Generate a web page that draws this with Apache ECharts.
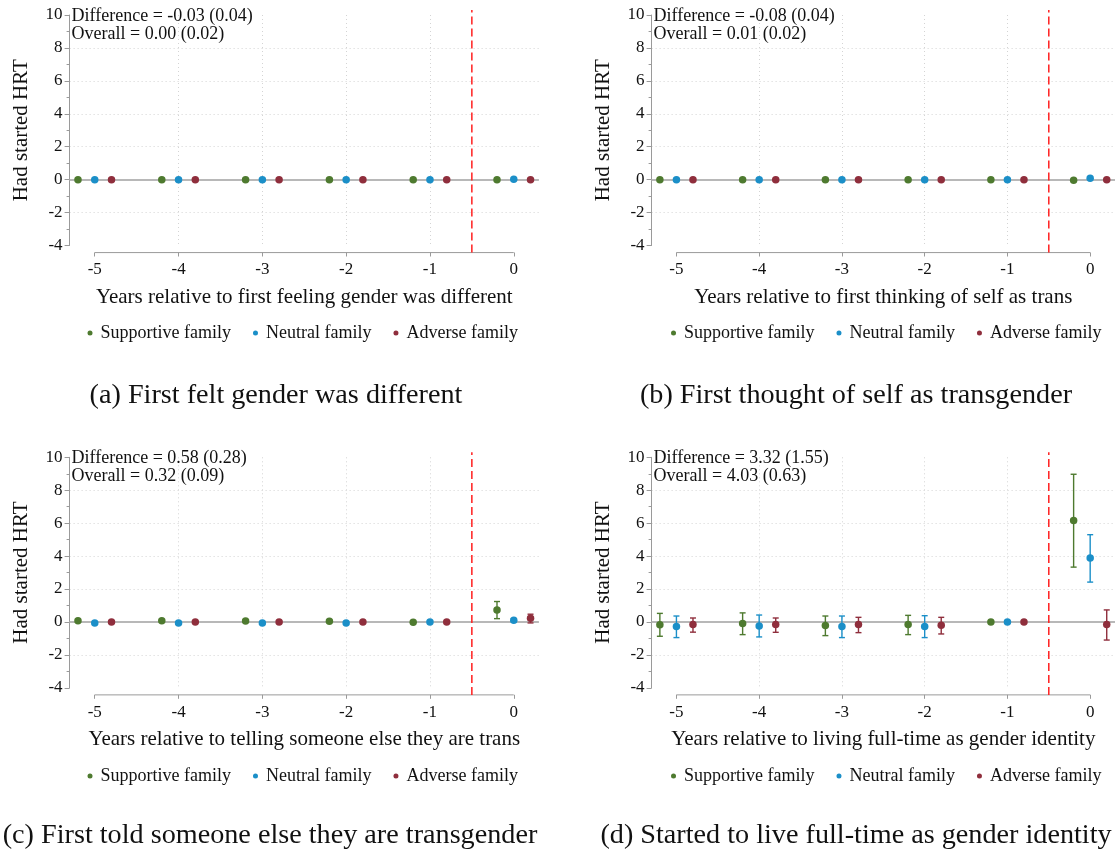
<!DOCTYPE html>
<html><head><meta charset="utf-8">
<script src="https://cdn.jsdelivr.net/npm/echarts@6/dist/echarts.min.js"></script>
<style>html,body{margin:0;padding:0;background:#fff}#c{width:1115px;height:855px}</style>
</head><body><div id="c"></div>
<script>
// ---------- data ----------
const years = [-5, -4, -3, -2, -1, 0];
const groupNames = ['Supportive family', 'Neutral family', 'Adverse family'];

// Panel (a)
const aSupportive = [0, 0, 0, 0, 0, 0];
const aNeutral    = [0, 0, 0, 0, 0, 0.03];
const aAdverse    = [0, 0, 0, 0, 0, 0];
// Panel (b)
const bSupportive = [0, 0, 0, 0, 0, -0.03];
const bNeutral    = [0, 0, 0, 0, 0, 0.08];
const bAdverse    = [0, 0, 0, 0, 0, 0];
// Panel (c)
const cSupportive   = [0.07, 0.07, 0.06, 0.04, -0.02, 0.73];
const cSupportiveLo = [null, null, null, null, null, 0.20];
const cSupportiveHi = [null, null, null, null, null, 1.24];
const cNeutral      = [-0.06, -0.06, -0.06, -0.06, 0, 0.10];
const cNeutralLo    = [null, null, null, null, null, 0.01];
const cNeutralHi    = [null, null, null, null, null, 0.20];
const cAdverse      = [0, 0, 0, -0.01, 0, 0.22];
const cAdverseLo    = [null, null, null, null, null, -0.06];
const cAdverseHi    = [null, null, null, null, null, 0.47];
// Panel (d)
const dSupportive   = [-0.17, -0.10, -0.22, -0.16, 0, 6.16];
const dSupportiveLo = [-0.87, -0.77, -0.83, -0.77, null, 3.33];
const dSupportiveHi = [0.52, 0.55, 0.36, 0.40, null, 8.97];
const dNeutral      = [-0.28, -0.24, -0.28, -0.28, 0, 3.88];
const dNeutralLo    = [-0.95, -0.91, -0.95, -0.95, null, 2.42];
const dNeutralHi    = [0.36, 0.42, 0.36, 0.38, null, 5.30];
const dAdverse      = [-0.16, -0.16, -0.16, -0.20, 0, -0.16];
const dAdverseLo    = [-0.62, -0.63, -0.65, -0.73, null, -1.10];
const dAdverseHi    = [0.24, 0.24, 0.28, 0.28, null, 0.73];

const diffTexts = ['Difference = -0.03 (0.04)', 'Difference = -0.08 (0.04)', 'Difference = 0.58 (0.28)', 'Difference = 3.32 (1.55)'];
const overallTexts = ['Overall = 0.00 (0.02)', 'Overall = 0.01 (0.02)', 'Overall = 0.32 (0.09)', 'Overall = 4.03 (0.63)'];
const xTitles = ['Years relative to first feeling gender was different',
                 'Years relative to first thinking of self as trans',
                 'Years relative to telling someone else they are trans',
                 'Years relative to living full-time as gender identity'];
const captions = ['(a) First felt gender was different', '(b) First thought of self as transgender',
                  '(c) First told someone else they are transgender', '(d) Started to live full-time as gender identity'];
const yTitle = 'Had started HRT';
const eventLine = -0.5;

// ---------- styling / layout ----------
const FONT = 'Liberation Serif';
const colors = ['#4e7a2f', '#1b8fc8', '#8f2e3c'];
const dodge = [-0.2, 0, 0.2];
const colX = [69.6, 651.6];
const rowY = [15, 457.3];
const gridW = 469.3, gridH = 230.5;
const yLow = -4.43, yHigh = 10.3;
const captionX = [276, 856, 270, 856];
const captionY = [396, 396, 836, 836];
const legendLeft = [87.5, 671];
const legendTop = [324, 767];

const panels = [
  {pts: [aSupportive, aNeutral, aAdverse], lo: [null, null, null], hi: [null, null, null]},
  {pts: [bSupportive, bNeutral, bAdverse], lo: [null, null, null], hi: [null, null, null]},
  {pts: [cSupportive, cNeutral, cAdverse], lo: [cSupportiveLo, cNeutralLo, cAdverseLo], hi: [cSupportiveHi, cNeutralHi, cAdverseHi]},
  {pts: [dSupportive, dNeutral, dAdverse], lo: [dSupportiveLo, dNeutralLo, dAdverseLo], hi: [dSupportiveHi, dNeutralHi, dAdverseHi]}
];

function errRender(params, api) {
  const x = api.value(0), lo = api.value(1), hi = api.value(2);
  const p1 = api.coord([x, lo]), p2 = api.coord([x, hi]);
  const w = 3;
  const style = {stroke: api.visual('color'), lineWidth: 1.4};
  return {type: 'group', children: [
    {type: 'line', shape: {x1: p1[0], y1: p1[1], x2: p2[0], y2: p2[1]}, style: style},
    {type: 'line', shape: {x1: p1[0] - w, y1: p1[1], x2: p1[0] + w, y2: p1[1]}, style: style},
    {type: 'line', shape: {x1: p2[0] - w, y1: p2[1], x2: p2[0] + w, y2: p2[1]}, style: style}
  ]};
}

const grids = [], xAxes = [], yAxes = [], series = [], legends = [], titles = [], graphics = [];
panels.forEach((p, i) => {
  const col = i % 2, row = Math.floor(i / 2);
  grids.push({left: colX[col], top: rowY[row], width: gridW, height: gridH, containLabel: false});
  xAxes.push({
    type: 'value', gridIndex: i, min: -5.3, max: 0.3, offset: 7, position: 'bottom',
    name: xTitles[i], nameLocation: 'middle', nameGap: 34,
    nameTextStyle: {fontFamily: FONT, fontSize: 21, color: '#111'},
    axisLine: {show: false, onZero: false},
    axisTick: {show: true, length: 4, customValues: years, lineStyle: {color: '#9a9a9a'}},
    axisLabel: {customValues: years, fontFamily: FONT, fontSize: 17, color: '#111', margin: 9},
    splitLine: {show: true, showMinLine: false, showMaxLine: false, lineStyle: {color: '#d4d4d4', type: [1, 3], width: 1}}
  });
  yAxes.push({
    type: 'value', gridIndex: i, min: -4, max: 10, interval: 2, position: 'left',
    name: yTitle, nameLocation: 'middle', nameGap: 38,
    nameTextStyle: {fontFamily: FONT, fontSize: 21, color: '#111'},
    axisLine: {show: true, onZero: false, lineStyle: {color: '#9a9a9a', width: 1}},
    axisTick: {show: true, length: 5, lineStyle: {color: '#9a9a9a'}},
    minorTick: {show: true, splitNumber: 2, length: 3, lineStyle: {color: '#9a9a9a'}},
    axisLabel: {fontFamily: FONT, fontSize: 17, color: '#111', margin: 7},
    splitLine: {show: true, showMinLine: false, showMaxLine: false, lineStyle: {color: '#d4d4d4', type: [1, 3], width: 1}}
  });
  // x axis line (drawn from -5 to 0 just below the plot) + zero reference line
  series.push({
    type: 'line', xAxisIndex: i, yAxisIndex: i, silent: true, clip: false, symbol: 'none', z: 3,
    data: [[years[0], yLow], [years[years.length - 1], yLow]],
    lineStyle: {color: '#9a9a9a', width: 1},
    markLine: {silent: true, symbol: 'none', label: {show: false}, z: 3,
      lineStyle: {color: '#b8b8b8', width: 2, type: 'solid'},
      data: [{yAxis: 0}]}
  });
  // event line
  series.push({
    type: 'line', xAxisIndex: i, yAxisIndex: i, silent: true, clip: false, symbol: 'none', z: 4,
    data: [[eventLine, yLow], [eventLine, yHigh]],
    lineStyle: {color: '#ff1f1f', width: 1.5, type: [8, 4]}
  });
  for (let g = 0; g < 3; g++) {
    const errData = [];
    if (p.lo[g]) {
      years.forEach((yr, k) => {
        if (p.lo[g][k] !== null) errData.push([yr + dodge[g], p.lo[g][k], p.hi[g][k]]);
      });
      series.push({
        type: 'custom', xAxisIndex: i, yAxisIndex: i, silent: true, z: 5,
        itemStyle: {color: colors[g]}, renderItem: errRender,
        encode: {x: 0, y: [1, 2]}, data: errData
      });
    }
    series.push({
      type: 'scatter', name: groupNames[g], xAxisIndex: i, yAxisIndex: i, z: 6,
      symbolSize: 7.5, itemStyle: {color: colors[g], opacity: 1},
      data: years.map((yr, k) => [yr + dodge[g], p.pts[g][k]])
    });
  }
  legends.push({
    data: groupNames, selectedMode: false, icon: 'circle', itemWidth: 5, itemHeight: 5, itemGap: 22,
    left: legendLeft[col], top: legendTop[row], padding: 0,
    textStyle: {fontFamily: FONT, fontSize: 18, color: '#111', padding: [0, 0, 0, 3]}
  });
  titles.push({
    text: diffTexts[i] + '\n' + overallTexts[i], left: colX[col] + 2, top: rowY[row] - 8,
    padding: 0,
    textStyle: {fontFamily: FONT, fontSize: 18, fontWeight: 'normal', color: '#111', lineHeight: 18}
  });
  graphics.push({
    type: 'text', x: captionX[i], y: captionY[i],
    style: {text: captions[i], font: '28.2px "Liberation Serif"', fill: '#111', textAlign: 'center', textVerticalAlign: 'middle'}
  });
});

const chart = echarts.init(document.getElementById('c'), null, {renderer: 'canvas'});
chart.setOption({
  backgroundColor: '#fff',
  animation: false,
  title: titles,
  legend: legends,
  grid: grids,
  xAxis: xAxes,
  yAxis: yAxes,
  series: series,
  graphic: graphics
});
</script></body></html>
